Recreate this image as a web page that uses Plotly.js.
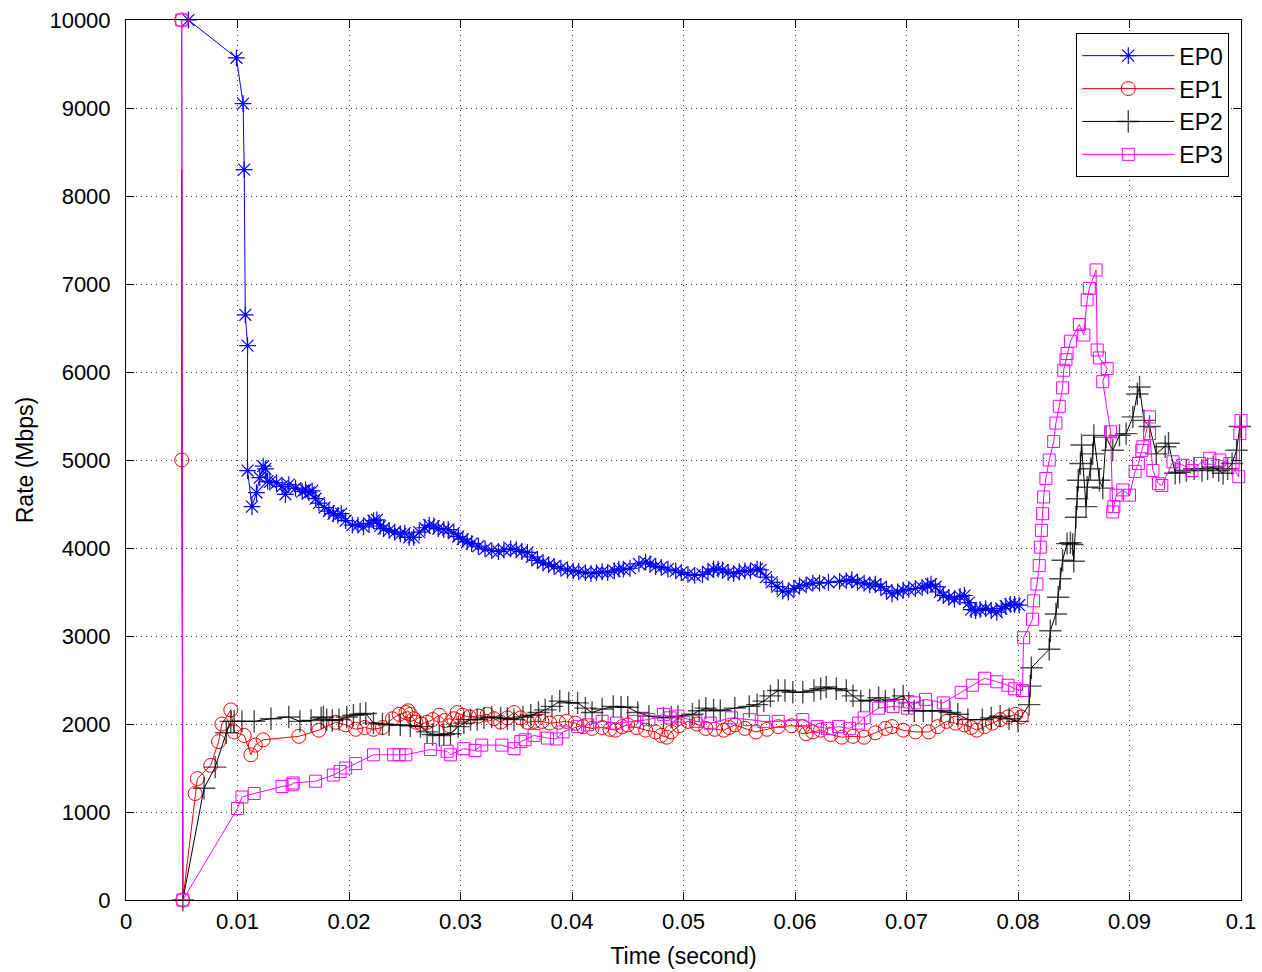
<!DOCTYPE html>
<html>
<head>
<meta charset="utf-8">
<script src="https://cdn.plot.ly/plotly-3.0.1.min.js"></script>
<style>html,body{margin:0;padding:0;background:#fff;}#chart{width:1262px;height:972px;}</style>
</head>
<body>
<div id="chart"></div>
<script>
// ---- Data ----
const seriesNames = ["EP0", "EP1", "EP2", "EP3"];

const ep0Time = [0.0056,0.0099,0.0105,0.0106,0.0107,0.0109,0.0109,0.0113,0.0117,0.0120,0.0123,0.0125,0.0127,0.0129,0.0135,0.0140,0.0143,0.0146,0.0152,0.0158,0.0161,0.0164,0.0167,0.0170,0.0173,0.0178,0.0182,0.0186,0.0190,0.0193,0.0197,0.0203,0.0208,0.0213,0.0218,0.0222,0.0225,0.0228,0.0231,0.0236,0.0241,0.0246,0.0250,0.0254,0.0258,0.0263,0.0268,0.0272,0.0276,0.0280,0.0285,0.0289,0.0294,0.0298,0.0302,0.0306,0.0310,0.0316,0.0322,0.0328,0.0334,0.0339,0.0345,0.0350,0.0355,0.0360,0.0364,0.0369,0.0374,0.0379,0.0384,0.0390,0.0396,0.0401,0.0406,0.0412,0.0417,0.0422,0.0427,0.0432,0.0438,0.0442,0.0446,0.0452,0.0460,0.0466,0.0470,0.0475,0.0480,0.0486,0.0493,0.0498,0.0504,0.0510,0.0517,0.0522,0.0527,0.0531,0.0535,0.0540,0.0545,0.0550,0.0555,0.0560,0.0566,0.0569,0.0574,0.0579,0.0584,0.0589,0.0594,0.0599,0.0604,0.0610,0.0616,0.0622,0.0630,0.0640,0.0646,0.0651,0.0656,0.0662,0.0667,0.0672,0.0677,0.0682,0.0687,0.0692,0.0697,0.0702,0.0708,0.0714,0.0719,0.0722,0.0726,0.0730,0.0733,0.0738,0.0743,0.0748,0.0752,0.0756,0.0758,0.0762,0.0766,0.0771,0.0776,0.0781,0.0785,0.0789,0.0793,0.0797,0.0801];
const ep0Rate = [10000,9570,9050,8300,6650,6300,4880,4470,4630,4800,4930,4900,4760,4750,4740,4700,4610,4720,4680,4640,4660,4630,4650,4560,4510,4460,4420,4390,4370,4390,4310,4260,4260,4240,4280,4310,4320,4250,4220,4200,4180,4160,4170,4120,4120,4180,4230,4260,4250,4220,4210,4210,4170,4130,4100,4070,4050,4020,3990,3970,3960,3980,3990,3980,3960,3950,3900,3860,3830,3810,3790,3770,3750,3740,3730,3720,3710,3720,3730,3720,3740,3760,3760,3770,3820,3840,3820,3790,3780,3760,3740,3720,3700,3690,3700,3730,3760,3760,3750,3720,3710,3730,3740,3740,3760,3750,3670,3610,3560,3510,3500,3540,3570,3580,3600,3600,3610,3620,3630,3640,3610,3600,3580,3590,3560,3520,3480,3500,3520,3530,3540,3550,3570,3590,3560,3500,3460,3440,3420,3450,3460,3380,3300,3290,3300,3310,3290,3270,3310,3340,3360,3360,3350];

const ep1Time = [0.0050,0.0050,0.0051,0.0062,0.0064,0.0076,0.0083,0.0086,0.0094,0.0097,0.0106,0.0112,0.0116,0.0123,0.0155,0.0173,0.0188,0.0197,0.0206,0.0214,0.0222,0.0230,0.0239,0.0245,0.0251,0.0253,0.0255,0.0258,0.0260,0.0265,0.0270,0.0275,0.0281,0.0286,0.0290,0.0294,0.0297,0.0302,0.0308,0.0316,0.0324,0.0330,0.0336,0.0342,0.0348,0.0354,0.0360,0.0366,0.0373,0.0380,0.0388,0.0395,0.0403,0.0410,0.0418,0.0427,0.0434,0.0439,0.0445,0.0450,0.0458,0.0466,0.0475,0.0480,0.0485,0.0489,0.0496,0.0504,0.0512,0.0520,0.0528,0.0536,0.0541,0.0546,0.0555,0.0565,0.0575,0.0585,0.0597,0.0607,0.0610,0.0616,0.0623,0.0632,0.0642,0.0652,0.0662,0.0672,0.0681,0.0687,0.0697,0.0708,0.0720,0.0728,0.0736,0.0744,0.0752,0.0758,0.0763,0.0770,0.0777,0.0784,0.0791,0.0798,0.0803];
const ep1Rate = [10000,5000,0,1210,1380,1530,1800,2000,2160,1910,1870,1650,1760,1820,1860,1930,2020,1990,1940,1960,1940,1960,2060,2110,2130,2150,2110,2060,2020,2000,2020,2050,2100,2040,1980,2060,2130,2100,2080,2090,2110,2060,2020,2070,2130,2070,2020,2030,2030,2010,2020,2030,2010,1970,1950,1960,1940,1930,1970,1990,1960,1930,1910,1870,1850,1910,1980,2030,2000,1950,1940,1930,1960,1990,1950,1910,1940,1970,1980,1970,1890,1910,1930,1880,1850,1860,1850,1900,1950,1970,1930,1910,1910,1970,2030,2010,1990,1960,1930,1970,2010,2050,2080,2110,2080];

const ep2Time = [0.0050,0.0051,0.0070,0.0080,0.0090,0.0094,0.0097,0.0104,0.0115,0.0130,0.0146,0.0156,0.0166,0.0175,0.0177,0.0180,0.0185,0.0191,0.0198,0.0204,0.0210,0.0215,0.0222,0.0230,0.0236,0.0246,0.0255,0.0264,0.0270,0.0275,0.0281,0.0285,0.0291,0.0298,0.0303,0.0309,0.0315,0.0321,0.0328,0.0336,0.0342,0.0348,0.0356,0.0363,0.0370,0.0376,0.0382,0.0389,0.0397,0.0405,0.0412,0.0418,0.0427,0.0437,0.0444,0.0450,0.0459,0.0469,0.0482,0.0489,0.0495,0.0508,0.0514,0.0520,0.0527,0.0533,0.0546,0.0559,0.0566,0.0572,0.0578,0.0585,0.0591,0.0598,0.0607,0.0617,0.0623,0.0628,0.0637,0.0646,0.0652,0.0659,0.0667,0.0675,0.0681,0.0689,0.0697,0.0702,0.0707,0.0715,0.0723,0.0731,0.0739,0.0746,0.0755,0.0768,0.0776,0.0784,0.0792,0.0800,0.0810,0.0811,0.0812,0.0828,0.0829,0.0834,0.0836,0.0838,0.0840,0.0844,0.0847,0.0849,0.0850,0.0852,0.0853,0.0854,0.0856,0.0857,0.0861,0.0862,0.0865,0.0867,0.0868,0.0873,0.0876,0.0879,0.0885,0.0891,0.0897,0.0903,0.0907,0.0909,0.0913,0.0918,0.0924,0.0932,0.0935,0.0941,0.0945,0.0951,0.0958,0.0965,0.0970,0.0975,0.0980,0.0984,0.0988,0.0992,0.0996,0.0999];
const ep2Rate = [8300,0,1270,1510,1900,2030,2030,2030,2030,2060,2080,2030,2040,2070,2080,2050,2040,2050,2080,2100,2110,2120,2010,2000,1990,1990,1980,1970,1910,1880,1870,1880,1890,1970,2010,2050,2050,2070,2080,2070,2060,2050,2080,2100,2130,2160,2200,2260,2240,2240,2180,2130,2170,2200,2190,2190,2130,2090,2070,2080,2090,2110,2150,2180,2160,2150,2180,2200,2220,2260,2320,2380,2380,2360,2360,2380,2400,2420,2400,2380,2320,2260,2270,2300,2260,2280,2320,2240,2150,2150,2150,2150,2130,2110,2050,2050,2070,2090,2060,2030,2220,2430,2640,2850,3060,3250,3440,3650,3860,4050,4060,4040,3850,4350,4560,4770,4960,5170,4470,4690,4900,5070,5280,4770,4680,5260,5110,5280,5300,5490,5750,5830,5450,5380,5070,5150,5190,4850,4860,4880,4900,4880,4900,4920,4880,4850,4900,4960,5110,5380];

const ep3Time = [0.0050,0.0051,0.0100,0.0104,0.0115,0.0140,0.0149,0.0150,0.0170,0.0186,0.0192,0.0197,0.0206,0.0222,0.0240,0.0245,0.0251,0.0273,0.0288,0.0291,0.0303,0.0313,0.0319,0.0337,0.0348,0.0354,0.0358,0.0366,0.0378,0.0386,0.0392,0.0405,0.0414,0.0427,0.0440,0.0456,0.0469,0.0482,0.0488,0.0495,0.0511,0.0524,0.0543,0.0559,0.0572,0.0585,0.0607,0.0620,0.0629,0.0639,0.0649,0.0657,0.0662,0.0675,0.0688,0.0701,0.0707,0.0717,0.0733,0.0749,0.0759,0.0770,0.0781,0.0791,0.0797,0.0804,0.0805,0.0813,0.0814,0.0817,0.0819,0.0820,0.0821,0.0822,0.0823,0.0825,0.0828,0.0832,0.0834,0.0837,0.0840,0.0841,0.0843,0.0844,0.0847,0.0855,0.0859,0.0862,0.0864,0.0870,0.0871,0.0873,0.0880,0.0876,0.0883,0.0885,0.0886,0.0888,0.0894,0.0900,0.0905,0.0908,0.0911,0.0912,0.0918,0.0918,0.0921,0.0926,0.0929,0.0939,0.0948,0.0956,0.0963,0.0972,0.0981,0.0990,0.0998,0.0999,0.1000];
const ep3Rate = [10000,0,1040,1170,1210,1290,1310,1330,1350,1420,1460,1500,1550,1650,1650,1650,1650,1710,1690,1650,1720,1700,1760,1760,1720,1800,1820,1870,1840,1830,1910,1970,1990,2030,2010,2030,2050,2110,2070,2090,2030,2010,2070,2050,2030,2030,2050,1970,1950,1970,1950,2010,2070,2180,2200,2180,2240,2280,2240,2360,2440,2520,2480,2440,2400,2380,2980,3190,3400,3590,3800,4010,4200,4390,4580,4790,5000,5210,5420,5610,5820,6020,6140,6210,6350,6540,6420,6820,6950,7160,6250,6160,6040,5890,5320,4410,4470,4600,4660,4600,4870,4960,5110,5150,5490,5300,4880,4730,4710,4980,4940,4880,4960,5020,5000,4960,4810,5300,5450];

const xTickVals = [0,0.01,0.02,0.03,0.04,0.05,0.06,0.07,0.08,0.09,0.1];
const xTickText = ["0","0.01","0.02","0.03","0.04","0.05","0.06","0.07","0.08","0.09","0.1"];
const yTickVals = [0,1000,2000,3000,4000,5000,6000,7000,8000,9000,10000];
const yTickText = ["0","1000","2000","3000","4000","5000","6000","7000","8000","9000","10000"];

// ---- Styling ----
const colors = ["#0000ff", "#ff0000", "#000000", "#ff00ff"];
const symbols = ["asterisk-open", "circle-open", "cross-thin-open", "square-open"];
const sizes = [14, 14, 16, 12];
const markerLineWidths = [1.2, 1, 1.4, 1];
const xs = [ep0Time, ep1Time, ep2Time, ep3Time];
const ys = [ep0Rate, ep1Rate, ep2Rate, ep3Rate];

// EP2's first (top) point has no visible marker in the reference
const markerSize = (i) => {
  if (i !== 2) return sizes[i];
  return ys[i].map((_, k) => (k === 0 ? 0 : sizes[i]));
};

const traces = seriesNames.map((name, i) => ({
  type: "scatter",
  mode: "lines+markers",
  name: name,
  x: xs[i],
  y: ys[i],
  line: {color: colors[i], width: 1},
  marker: {symbol: symbols[i], size: markerSize(i), color: colors[i], line: {color: colors[i], width: markerLineWidths[i]}},
  cliponaxis: false
}));

const font = "Arial, 'Liberation Sans', Helvetica, sans-serif";
const layout = {
  width: 1262, height: 972,
  margin: {l: 126, r: 21, t: 20, b: 72, pad: 0},
  paper_bgcolor: "#ffffff",
  plot_bgcolor: "#ffffff",
  font: {family: font, size: 22, color: "#000"},
  showlegend: true,
  legend: {
    x: 0.9895, xanchor: "right", y: 0.985, yanchor: "top",
    bgcolor: "#ffffff", bordercolor: "#000", borderwidth: 1,
    font: {family: font, size: 23, color: "#000"},
    itemwidth: 92, tracegroupgap: 0
  },
  xaxis: {
    range: [0, 0.1],
    tickvals: xTickVals, ticktext: xTickText,
    showgrid: true, gridcolor: "#444", griddash: "1px,4px", gridwidth: 1,
    zeroline: false, showline: true, linecolor: "#000", linewidth: 1, mirror: "ticks",
    ticks: "inside", ticklen: 8, tickcolor: "#000",
    ticklabelstandoff: 2,
    tickfont: {family: font, size: 22, color: "#000"},
    title: {text: "Time (second)", font: {family: font, size: 23, color: "#000"}, standoff: 14}
  },
  yaxis: {
    range: [0, 10000],
    tickvals: yTickVals, ticktext: yTickText,
    showgrid: true, gridcolor: "#444", griddash: "1px,4px", gridwidth: 1,
    zeroline: false, showline: true, linecolor: "#000", linewidth: 1, mirror: "ticks",
    ticks: "inside", ticklen: 8, tickcolor: "#000",
    ticklabelstandoff: 10,
    tickfont: {family: font, size: 22, color: "#000"},
    title: {text: "Rate (Mbps)", font: {family: font, size: 23, color: "#000"}, standoff: 9}
  }
};

Plotly.newPlot("chart", traces, layout, {displayModeBar: false, staticPlot: true});
</script>
</body>
</html>
